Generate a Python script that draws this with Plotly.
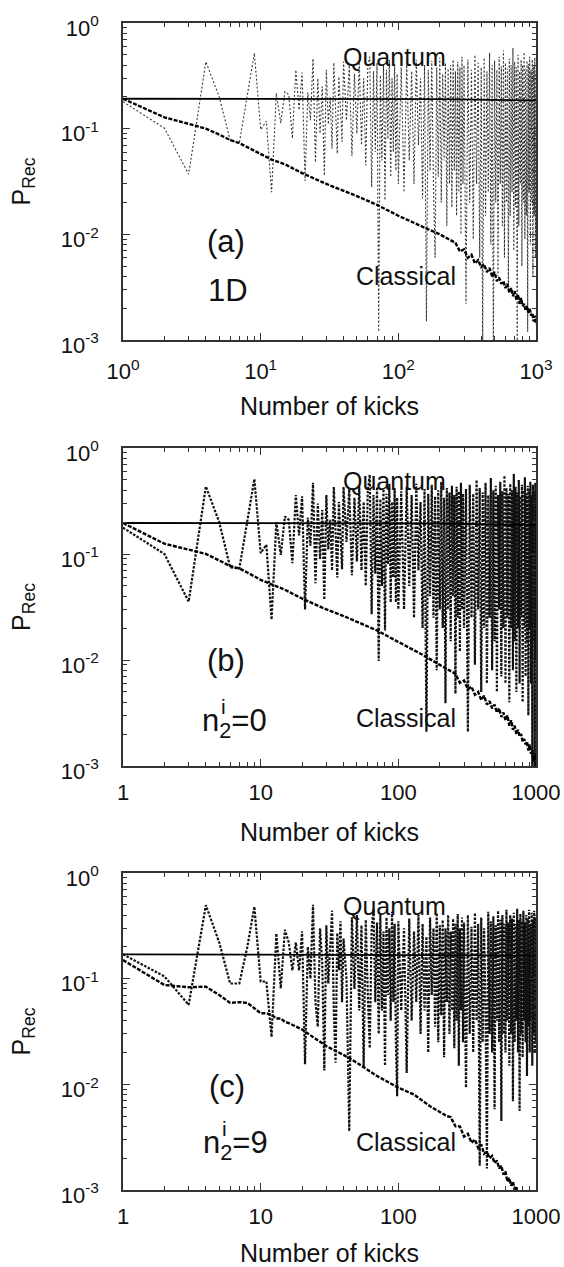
import plotly.graph_objects as go

# ---------------- data ----------------
# kick numbers at which the quantum curves are sampled
kicks_early = list(range(1, 41))
kicks_mid = list(range(42, 101, 2))
kicks_late = list(range(105, 300, 5)) + list(range(300, 1001, 10))
quantum_kicks = kicks_early + kicks_mid + kicks_late

# panel (a) 1D quantum recurrence probability
quantum_a = [
    0.18, 0.101, 0.037, 0.43, 0.20, 0.078, 0.073, 0.21, 0.52, 0.098,
    0.118, 0.025, 0.216, 0.113, 0.224, 0.21, 0.081, 0.36, 0.15, 0.34,
    0.032, 0.22, 0.12, 0.46, 0.048, 0.30, 0.09, 0.25, 0.036, 0.36,
    0.11, 0.20, 0.065, 0.42, 0.14, 0.058, 0.31, 0.16, 0.075, 0.43,
    # 42..100 step 2
    0.12, 0.40, 0.055, 0.33, 0.09, 0.43, 0.07, 0.30, 0.045, 0.38,
    0.48, 0.028, 0.35, 0.06, 0.42, 0.0012, 0.32, 0.05, 0.40, 0.021,
    0.36, 0.08, 0.45, 0.035, 0.30, 0.06, 0.41, 0.04, 0.33, 0.03,
    # 105..295 step 5
    0.38, 0.025, 0.42, 0.05, 0.35, 0.03, 0.45, 0.07, 0.30, 0.022,
    0.40, 0.0015, 0.36, 0.04, 0.44, 0.028, 0.006, 0.38, 0.035, 0.47,
    0.02, 0.33, 0.05, 0.42, 0.012, 0.37, 0.03, 0.40, 0.018, 0.45,
    0.04, 0.35, 0.015, 0.43, 0.025, 0.38, 0.01, 0.48, 0.03,
    # 300..1000 step 10
    0.40, 0.0022, 0.45, 0.02, 0.36, 0.009, 0.50, 0.03, 0.42, 0.006,
    0.38, 0.0009, 0.47, 0.015, 0.35, 0.025, 0.52, 0.008, 0.40, 0.0008,
    0.44, 0.02, 0.36, 0.004, 0.48, 0.03, 0.39, 0.012, 0.55, 0.006,
    0.42, 0.02, 0.37, 0.003, 0.46, 0.015, 0.40, 0.025, 0.58, 0.007,
    0.43, 0.018, 0.38, 0.0009, 0.50, 0.012, 0.35, 0.03, 0.45, 0.005,
    0.40, 0.02, 0.53, 0.009, 0.37, 0.015, 0.44, 0.0012, 0.41, 0.025,
    0.48, 0.008, 0.36, 0.02, 0.45, 0.004, 0.39, 0.015, 0.47, 0.006,
    0.35,
]

# panel (b) n2 = 0
quantum_b = [
    0.177, 0.10, 0.0355, 0.434, 0.20, 0.075, 0.073, 0.21, 0.51, 0.102,
    0.122, 0.024, 0.20, 0.098, 0.226, 0.21, 0.082, 0.36, 0.15, 0.35,
    0.030, 0.22, 0.12, 0.47, 0.053, 0.30, 0.09, 0.26, 0.037, 0.36,
    0.11, 0.21, 0.07, 0.43, 0.14, 0.06, 0.31, 0.17, 0.072, 0.43,
    0.13, 0.41, 0.063, 0.34, 0.085, 0.44, 0.07, 0.31, 0.05, 0.39,
    0.56, 0.027, 0.36, 0.065, 0.43, 0.0098, 0.33, 0.05, 0.41, 0.019,
    0.37, 0.08, 0.46, 0.035, 0.31, 0.06, 0.42, 0.035, 0.34, 0.03,
    0.39, 0.03, 0.43, 0.05, 0.36, 0.025, 0.46, 0.07, 0.31, 0.02,
    0.41, 0.0021, 0.37, 0.04, 0.45, 0.025, 0.35, 0.008, 0.40, 0.03,
    0.48, 0.02, 0.34, 0.0039, 0.42, 0.03, 0.38, 0.015, 0.44, 0.04,
    0.36, 0.0048, 0.43, 0.025, 0.39, 0.012, 0.47, 0.03, 0.37,
    0.02, 0.41, 0.0021, 0.45, 0.025, 0.37, 0.009, 0.50, 0.03, 0.42,
    0.005, 0.38, 0.02, 0.47, 0.006, 0.36, 0.025, 0.52, 0.008, 0.40,
    0.015, 0.44, 0.005, 0.36, 0.03, 0.48, 0.007, 0.39, 0.02, 0.55,
    0.006, 0.42, 0.025, 0.37, 0.004, 0.46, 0.02, 0.40, 0.008, 0.57,
    0.015, 0.43, 0.005, 0.38, 0.02, 0.50, 0.006, 0.35, 0.025, 0.45,
    0.004, 0.40, 0.02, 0.53, 0.007, 0.37, 0.015, 0.44, 0.003, 0.41,
    0.02, 0.48, 0.006, 0.36, 0.0009, 0.45, 0.015, 0.39, 0.0009, 0.47,
    0.01,
]

# panel (c) n2 = 9
quantum_c = [
    0.17, 0.105, 0.0565, 0.496, 0.22, 0.09, 0.09, 0.20, 0.48, 0.094,
    0.094, 0.028, 0.268, 0.081, 0.29, 0.22, 0.12, 0.22, 0.12, 0.28,
    0.0155, 0.20, 0.10, 0.50, 0.06, 0.035, 0.30, 0.14, 0.0135, 0.32,
    0.09, 0.22, 0.44, 0.05, 0.016, 0.27, 0.12, 0.35, 0.06, 0.24,
    0.10, 0.0036, 0.38, 0.08, 0.40, 0.05, 0.32, 0.0147, 0.36, 0.07,
    0.022, 0.30, 0.46, 0.06, 0.34, 0.03, 0.40, 0.05, 0.28, 0.015,
    0.38, 0.07, 0.30, 0.04, 0.43, 0.06, 0.33, 0.025, 0.0077, 0.35,
    0.05, 0.30, 0.0128, 0.37, 0.04, 0.28, 0.06, 0.40, 0.03, 0.33,
    0.05, 0.25, 0.02, 0.38, 0.07, 0.30, 0.035, 0.42, 0.025, 0.32,
    0.045, 0.36, 0.018, 0.30, 0.06, 0.40, 0.03, 0.28, 0.05, 0.37,
    0.022, 0.33, 0.04, 0.41, 0.015, 0.30, 0.05, 0.38, 0.025,
    0.34, 0.0093, 0.40, 0.03, 0.31, 0.02, 0.42, 0.04, 0.33, 0.0017,
    0.38, 0.025, 0.30, 0.05, 0.0016, 0.43, 0.03, 0.35, 0.02, 0.39,
    0.0058, 0.32, 0.04, 0.44, 0.025, 0.36, 0.0045, 0.40, 0.03, 0.33,
    0.02, 0.45, 0.04, 0.34, 0.015, 0.40, 0.03, 0.37, 0.0069, 0.42,
    0.025, 0.33, 0.04, 0.46, 0.02, 0.36, 0.0056, 0.41, 0.03, 0.35,
    0.018, 0.44, 0.04, 0.34, 0.025, 0.40, 0.012, 0.37, 0.035, 0.45,
    0.02, 0.33, 0.04, 0.42, 0.015, 0.36, 0.03, 0.44, 0.02, 0.38,
    0.025,
]

# classical curves: smooth part, then the jittery tail (upper/lower band edges)
classical_kicks_ab = [1, 2, 3, 4, 5, 6, 7, 8, 10, 12, 15, 20, 30, 40, 50, 70,
                      100, 150, 200]
classical_a = [0.192, 0.128, 0.111, 0.100, 0.088, 0.078, 0.073, 0.067, 0.058,
               0.051, 0.046, 0.038, 0.030, 0.026, 0.023, 0.019, 0.0150, 0.0118,
               0.0100]
classical_b = [0.196, 0.125, 0.110, 0.100, 0.087, 0.077, 0.073, 0.067, 0.057,
               0.052, 0.046, 0.038, 0.030, 0.026, 0.023, 0.019, 0.0148, 0.0112,
               0.0090]
tail_kicks_ab = list(range(260, 1001, 20))
classical_tail_a = [
    0.0083, 0.0069, 0.0072, 0.0060, 0.0064, 0.0053, 0.0057, 0.0049, 0.0052, 0.0044,
    0.0048, 0.0040, 0.0044, 0.0036, 0.0039, 0.0034, 0.0036, 0.0031, 0.0034, 0.0028,
    0.0031, 0.0026, 0.0029, 0.0024, 0.0027, 0.0022, 0.0025, 0.0021, 0.0022, 0.0019,
    0.0021, 0.0018, 0.0020, 0.0017, 0.0018, 0.0015, 0.0017, 0.0014,
]
classical_tail_b = [
    0.0074, 0.0061, 0.0064, 0.0053, 0.0056, 0.0047, 0.0050, 0.0042, 0.0046, 0.0038,
    0.0041, 0.0035, 0.0038, 0.0032, 0.0035, 0.0029, 0.0032, 0.0027, 0.0030, 0.0024,
    0.0027, 0.0022, 0.0024, 0.0020, 0.0022, 0.0019, 0.0020, 0.0017, 0.0018, 0.0016,
    0.0017, 0.0014, 0.0016, 0.0013, 0.0014, 0.0011, 0.0013, 0.0010,
]
classical_kicks_c = [1, 2, 3, 4, 5, 6, 7, 8, 9, 10, 11, 12, 13, 14, 15, 16, 20,
                     25, 30, 40, 50, 70, 100, 130, 170, 225]
classical_c = [0.15, 0.087, 0.083, 0.084, 0.07, 0.059, 0.06, 0.059, 0.0525,
               0.047, 0.047, 0.0455, 0.042, 0.042, 0.039, 0.038, 0.033, 0.027,
               0.023, 0.019, 0.016, 0.012, 0.0093, 0.008, 0.0062, 0.005]
tail_kicks_c = list(range(240, 761, 20))
classical_tail_c = [
    0.0049, 0.0040, 0.0040, 0.0032, 0.0034, 0.0028, 0.0030, 0.0025, 0.0027, 0.0022,
    0.0023, 0.0020, 0.0021, 0.0018, 0.0019, 0.0016, 0.0017, 0.0014, 0.0015, 0.0012,
    0.0013, 0.0011, 0.0012, 0.00099, 0.00106, 0.00091, 0.00096,
]

level_kicks = [1, 200, 1000]
level_a = [0.192, 0.190, 0.185]
level_b = [0.196, 0.194, 0.188]
level_c = [0.170, 0.168, 0.166]

x_tick_vals = [1, 10, 100, 1000]
x_tick_text_a = ["10<sup>0</sup>", "10<sup>1</sup>", "10<sup>2</sup>", "10<sup>3</sup>"]
x_tick_text_bc = ["1", "10", "100", "1000"]
y_tick_vals = [0.001, 0.01, 0.1, 1]
y_tick_text = ["10<sup>-3</sup>", "10<sup>-2</sup>", "10<sup>-1</sup>", "10<sup>0</sup>"]

for arr in (quantum_a, quantum_b, quantum_c):
    assert len(arr) == len(quantum_kicks), len(arr)
assert len(classical_a) == len(classical_kicks_ab) == len(classical_b)
assert len(classical_c) == len(classical_kicks_c)
assert len(classical_tail_a) == len(tail_kicks_ab) == len(classical_tail_b)
assert len(classical_tail_c) == len(tail_kicks_c)

# ---------------- layout geometry (pixels) ----------------
W, H = 564, 1267
L, R, T, B = 123, 28, 23, 77
PW, PH = W - L - R, H - T - B
BOT = H - B


def py(p):
    return (BOT - p) / PH


def px(p):
    return (p - L) / PW


panels = [  # top px, bottom px
    (23, 340),
    (448, 766),
    (873, 1190),
]

FONT = "Liberation Sans, Arial, Helvetica, sans-serif"
x_minor = [m * d for d in (1, 10, 100) for m in range(2, 10)]
y_minor = [m * d for d in (0.001, 0.01, 0.1) for m in range(2, 10)]

fig = go.Figure()

q_styles = [
    dict(color="#383838", width=1.1, dash="2px,2px"),
    dict(color="#111111", width=2.2, dash="2.5px,1.5px"),
    dict(color="#111111", width=2.2, dash="2.5px,1.5px"),
]
quantum = [quantum_a, quantum_b, quantum_c]
classical = [
    (classical_kicks_ab + tail_kicks_ab, classical_a + classical_tail_a),
    (classical_kicks_ab + tail_kicks_ab, classical_b + classical_tail_b),
    (classical_kicks_c + tail_kicks_c, classical_c + classical_tail_c),
]
levels = [level_a, level_b, level_c]

for i in range(3):
    xa = "x" if i == 0 else f"x{i+1}"
    ya = "y" if i == 0 else f"y{i+1}"
    fig.add_trace(go.Scatter(x=quantum_kicks, y=quantum[i], mode="lines",
                             line=q_styles[i], xaxis=xa, yaxis=ya,
                             name="Quantum", showlegend=False))
    fig.add_trace(go.Scatter(x=classical[i][0], y=classical[i][1], mode="lines",
                             line=dict(color="#000", width=2.4, dash="4px,1.5px"),
                             xaxis=xa, yaxis=ya, name="Classical", showlegend=False))
    fig.add_trace(go.Scatter(x=level_kicks, y=levels[i], mode="lines",
                             line=dict(color="#000", width=1.8),
                             xaxis=xa, yaxis=ya, name="level", showlegend=False))

axis_common = dict(
    type="log", ticks="inside", ticklen=7, tickwidth=1.2, tickcolor="#333",
    showline=True, linecolor="#333", linewidth=1.5, mirror="allticks",
    showgrid=False, zeroline=False, tickmode="array", automargin=False,
    tickfont=dict(family=FONT, size=22, color="#111"),
)

layout = dict(
    width=W, height=H, margin=dict(l=L, r=R, t=T, b=B, autoexpand=False),
    paper_bgcolor="white", plot_bgcolor="white", showlegend=False,
    font=dict(family=FONT, color="#111"),
)

x_label_standoff = [11, 6, 6]
x_title_standoff = [14, 19, 19]

for i, (top, bot) in enumerate(panels):
    sfx = "" if i == 0 else str(i + 1)
    xa = dict(axis_common)
    xa.update(range=[0, 3], tickvals=x_tick_vals,
              ticktext=x_tick_text_a if i == 0 else x_tick_text_bc,
              anchor="y" + sfx, domain=[0, 1],
              minor=dict(tickmode="array", tickvals=x_minor, ticks="inside",
                         ticklen=4, tickwidth=1, tickcolor="#333"),
              ticklabelstandoff=x_label_standoff[i],
              title=dict(text="Number of kicks", standoff=x_title_standoff[i],
                         font=dict(family=FONT, size=25, color="#111")))
    ya = dict(axis_common)
    ya.update(range=[-3, 0], tickvals=y_tick_vals, ticktext=y_tick_text,
              anchor="x" + sfx, domain=[py(bot), py(top)],
              minor=dict(tickmode="array", tickvals=y_minor, ticks="inside",
                         ticklen=4, tickwidth=1, tickcolor="#333"),
              ticklabelstandoff=18, ticklabelshift=5,
              title=dict(text="P<sub>Rec</sub>", standoff=23,
                         font=dict(family=FONT, size=25, color="#111")))
    layout["xaxis" + sfx] = xa
    layout["yaxis" + sfx] = ya

fig.update_layout(**layout)

ann = []


def add_text(text, x, y, size, xanchor="center"):
    ann.append(dict(text=text, x=px(x), y=py(y), xref="paper", yref="paper",
                    showarrow=False, xanchor=xanchor, yanchor="middle",
                    font=dict(family=FONT, size=size, color="#111")))


quantum_y = [57, 481, 906]
classical_y = [276, 718, 1142]
for i in range(3):
    add_text("Quantum", 394, quantum_y[i], 25)
    add_text("Classical", 406, classical_y[i], 25)

add_text("(a)", 226, 241, 31)
add_text("1D", 228, 290, 31)
add_text("(b)", 226, 661, 31)
add_text("n<sub>2</sub>=0", 200, 723, 31, xanchor="left")
add_text("i", 223, 706, 21)
add_text("(c)", 227, 1086, 31)
add_text("n<sub>2</sub>=9", 201, 1145, 31, xanchor="left")
add_text("i", 224, 1128, 21)

fig.update_layout(annotations=ann)
fig.write_html("out.html", config={"displayModeBar": False})
